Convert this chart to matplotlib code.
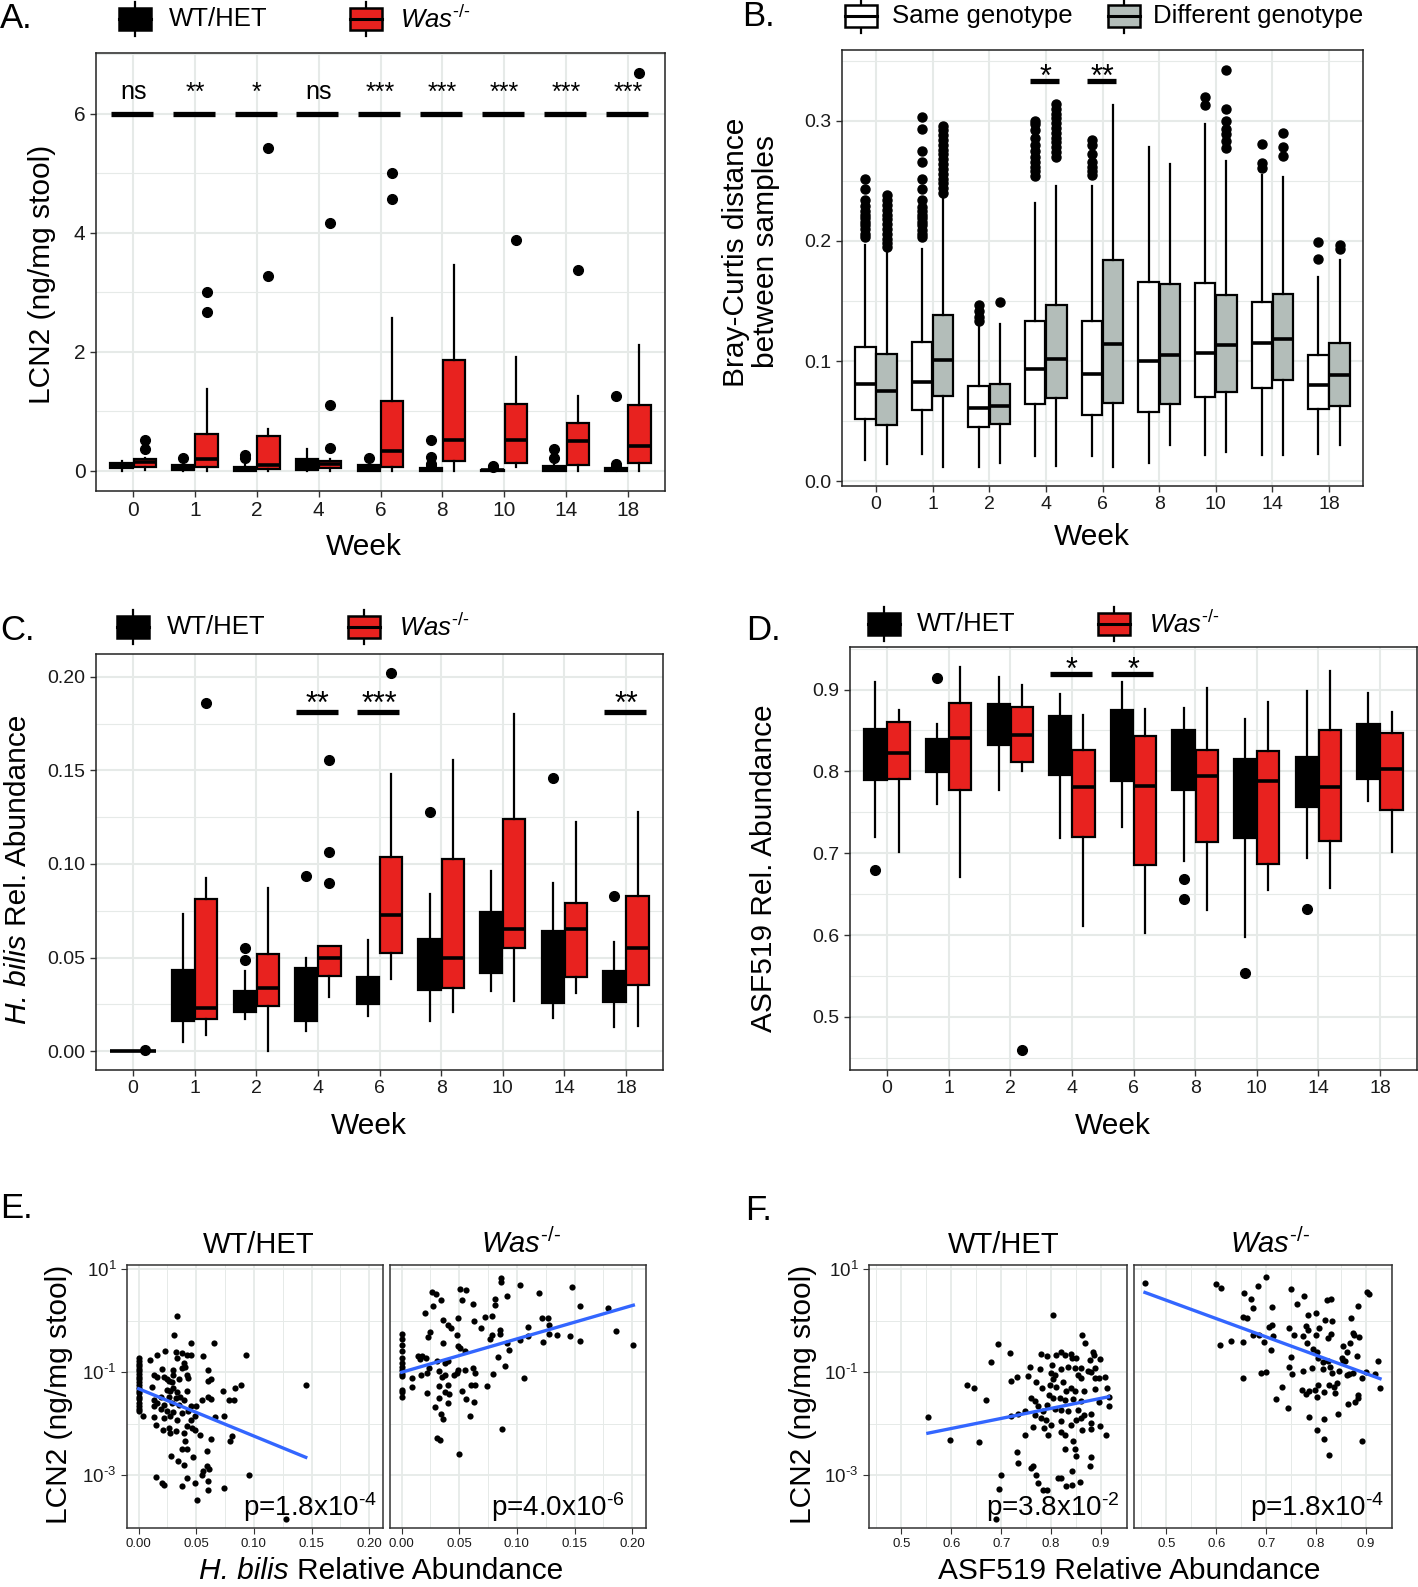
import numpy as np
import matplotlib
matplotlib.use("Agg")
import matplotlib.pyplot as plt
from matplotlib.patches import Rectangle
from matplotlib.ticker import FixedLocator, NullFormatter

plt.rcParams['font.family'] = ['Liberation Sans', 'DejaVu Sans']
plt.rcParams['mathtext.fontset'] = 'custom'
plt.rcParams['mathtext.rm'] = 'Liberation Sans'
plt.rcParams['mathtext.it'] = 'Liberation Sans:italic'

RED = '#e8221f'
GREY = '#b3bdb9'
GRID = '#e6eae8'
BLUE = '#3366ff'
HY = "\u2010"  # short hyphen for superscripts

# ---------------- data ----------------
weeks = ["0", "1", "2", "4", "6", "8", "10", "14", "18"]

# box stats: (whisker low, q1, median, q3, whisker high)
lcn2_wt = [(0.0, 0.04, 0.08, 0.13, 0.17), (0.0, 0.01, 0.04, 0.09, 0.10), (0.0, 0.0, 0.03, 0.07, 0.10),
           (0.0, 0.01, 0.09, 0.19, 0.36), (0.0, 0.0, 0.03, 0.09, 0.10), (0.0, 0.0, 0.01, 0.04, 0.06),
           (0.0, 0.0, 0.005, 0.02, 0.03), (0.0, 0.0, 0.03, 0.08, 0.10), (0.0, 0.0, 0.01, 0.04, 0.05)]
lcn2_wt_out = [[], [0.22], [0.21, 0.27], [], [0.22], [0.09, 0.12, 0.23, 0.52], [0.06, 0.08],
               [0.22, 0.36], [0.08, 0.12, 1.26]]
lcn2_was = [(0.02, 0.06, 0.14, 0.19, 0.22), (0.0, 0.06, 0.19, 0.62, 1.38), (0.0, 0.03, 0.10, 0.59, 0.70),
            (0.0, 0.04, 0.11, 0.16, 0.20), (0.0, 0.07, 0.34, 1.17, 2.57), (0.0, 0.16, 0.52, 1.86, 3.45),
            (0.06, 0.13, 0.51, 1.12, 1.92), (0.0, 0.09, 0.50, 0.81, 1.26), (0.0, 0.13, 0.42, 1.11, 2.12)]
lcn2_was_out = [[0.37, 0.52], [2.66, 3.0], [3.28, 5.43], [0.39, 1.10, 4.16], [4.57, 5.01], [],
                [3.87], [3.37], [6.68]]
lcn2_sig = ["ns", "**", "*", "ns", "***", "***", "***", "***", "***"]

bc_same = [(0.018, 0.052, 0.081, 0.112, 0.197), (0.023, 0.059, 0.083, 0.116, 0.193),
           (0.012, 0.045, 0.061, 0.079, 0.130), (0.021, 0.064, 0.093, 0.133, 0.232),
           (0.021, 0.055, 0.089, 0.133, 0.246), (0.015, 0.058, 0.100, 0.166, 0.278),
           (0.022, 0.070, 0.107, 0.165, 0.297), (0.022, 0.078, 0.115, 0.149, 0.255),
           (0.023, 0.060, 0.080, 0.105, 0.170)]
bc_same_out = [[0.203, 0.206, 0.210, 0.213, 0.216, 0.219, 0.222, 0.225, 0.229, 0.234, 0.243, 0.252],
               [0.203, 0.206, 0.209, 0.213, 0.216, 0.219, 0.222, 0.225, 0.228, 0.234, 0.243, 0.252,
                0.266, 0.275, 0.293, 0.303],
               [0.133, 0.137, 0.142, 0.147],
               [0.254, 0.258, 0.262, 0.266, 0.270, 0.275, 0.280, 0.286, 0.292, 0.297, 0.300],
               [0.255, 0.258, 0.262, 0.266, 0.272, 0.280, 0.284],
               [], [0.313, 0.320], [0.261, 0.265, 0.281], [0.185, 0.199]]
bc_diff = [(0.014, 0.047, 0.075, 0.106, 0.191), (0.012, 0.071, 0.101, 0.138, 0.235),
           (0.015, 0.048, 0.063, 0.081, 0.131), (0.013, 0.069, 0.102, 0.147, 0.246),
           (0.012, 0.065, 0.114, 0.184, 0.313), (0.030, 0.064, 0.105, 0.164, 0.264),
           (0.024, 0.074, 0.113, 0.155, 0.267), (0.022, 0.084, 0.118, 0.156, 0.253),
           (0.030, 0.063, 0.088, 0.115, 0.184)]
bc_diff_out = [[0.195, 0.198, 0.202, 0.206, 0.210, 0.214, 0.218, 0.222, 0.226, 0.230, 0.234, 0.238],
               [0.240, 0.244, 0.248, 0.252, 0.256, 0.260, 0.264, 0.268, 0.272, 0.276, 0.280, 0.284,
                0.288, 0.292, 0.296],
               [0.149],
               [0.270, 0.274, 0.278, 0.282, 0.286, 0.290, 0.294, 0.298, 0.302, 0.306, 0.310, 0.314],
               [], [], [0.277, 0.283, 0.289, 0.293, 0.300, 0.310, 0.342], [0.271, 0.278, 0.290],
               [0.193, 0.197]]
bc_sig_idx = [3, 4]
bc_sig = ["*", "**"]

hb_wt = [(0, 0, 0, 0, 0), (0.0049, 0.0159, 0.030, 0.0435, 0.0734), (0.0174, 0.0211, 0.028, 0.0323, 0.0426),
         (0.0105, 0.0159, 0.030, 0.0444, 0.0497), (0.0189, 0.0254, 0.032, 0.0398, 0.0594),
         (0.0159, 0.0327, 0.045, 0.060, 0.0837), (0.0319, 0.042, 0.060, 0.0743, 0.0962),
         (0.0177, 0.0258, 0.045, 0.064, 0.090), (0.0127, 0.0263, 0.035, 0.043, 0.0584)]
hb_wt_out = [[], [], [0.0487, 0.0553], [0.0934], [], [0.128], [], [0.1457], [0.083]]
hb_was = [(0, 0, 0, 0, 0), (0.0086, 0.017, 0.023, 0.0814, 0.0926), (0.0, 0.0243, 0.0336, 0.0519, 0.087),
          (0.0291, 0.0403, 0.0497, 0.0562, 0.0562), (0.0385, 0.0523, 0.0725, 0.1036, 0.148),
          (0.0207, 0.0336, 0.050, 0.1027, 0.1556), (0.027, 0.0551, 0.065, 0.1238, 0.180),
          (0.0308, 0.0398, 0.065, 0.079, 0.1225), (0.0136, 0.0355, 0.0553, 0.0827, 0.128)]
hb_was_out = [[0.0005], [0.186], [], [0.090, 0.1064, 0.1556], [0.2019], [], [], [], []]
hb_sig_idx = [3, 4, 8]
hb_sig = ["**", "***", "**"]

asf_wt = [(0.720, 0.790, 0.82, 0.852, 0.909), (0.760, 0.799, 0.82, 0.840, 0.858),
          (0.777, 0.832, 0.86, 0.882, 0.915), (0.718, 0.796, 0.84, 0.868, 0.894),
          (0.732, 0.788, 0.84, 0.875, 0.909), (0.691, 0.777, 0.82, 0.850, 0.878),
          (0.598, 0.719, 0.78, 0.815, 0.864), (0.694, 0.756, 0.79, 0.817, 0.898),
          (0.764, 0.791, 0.83, 0.858, 0.896)]
asf_wt_out = [[0.679], [0.914], [], [], [], [0.644, 0.669], [0.553], [0.632], []]
asf_was = [(0.702, 0.791, 0.823, 0.860, 0.875), (0.671, 0.777, 0.841, 0.884, 0.927),
           (0.800, 0.812, 0.844, 0.879, 0.905), (0.611, 0.720, 0.781, 0.826, 0.869),
           (0.603, 0.685, 0.782, 0.843, 0.876), (0.631, 0.714, 0.794, 0.826, 0.902),
           (0.655, 0.687, 0.788, 0.825, 0.885), (0.658, 0.715, 0.781, 0.850, 0.923),
           (0.702, 0.753, 0.803, 0.847, 0.872)]
asf_was_out = [[], [], [0.459], [], [], [], [], [], []]
asf_sig_idx = [3, 4]
asf_sig = ["*", "*"]

# scatter: (relative abundance, log10 LCN2)
sc_hb_wt = [(0.0, -0.73), (0.0, -0.79), (0.0, -0.84), (0.0, -0.88), (0.0, -0.94), (0.0, -0.98), (0.0, -1.03),
            (0.0, -1.09), (0.0, -1.14), (0.0, -1.19), (0.0, -1.25), (0.0, -1.30), (0.0, -1.37), (0.0, -1.41),
            (0.0, -1.47), (0.0, -1.52), (0.0, -1.60), (0.0, -1.66), (0.0, -1.71), (0.0, -1.76),
            (0.033, 0.10), (0.031, -0.28), (0.045, -0.44), (0.065, -0.44), (0.093, -0.66), (0.023, -0.59),
            (0.016, -0.66), (0.032, -0.61), (0.038, -0.62), (0.042, -0.66), (0.045, -0.66), (0.056, -0.69),
            (0.010, -0.77), (0.033, -0.72), (0.039, -0.82), (0.038, -0.92), (0.040, -0.90), (0.020, -0.94),
            (0.030, -0.95), (0.042, -1.05), (0.060, -0.95), (0.013, -1.06), (0.016, -1.09), (0.022, -1.09),
            (0.025, -1.13), (0.026, -1.16), (0.029, -1.19), (0.030, -1.05), (0.035, -1.14), (0.043, -1.11),
            (0.060, -1.16), (0.063, -1.13), (0.089, -1.24), (0.084, -1.30), (0.145, -1.25), (0.012, -1.28),
            (0.025, -1.34), (0.027, -1.37), (0.030, -1.30), (0.033, -1.39), (0.042, -1.37), (0.073, -1.37),
            (0.004, -1.85), (0.019, -1.47), (0.026, -1.47), (0.032, -1.50), (0.036, -1.47), (0.039, -1.53),
            (0.013, -1.53), (0.016, -1.60), (0.022, -1.63), (0.029, -1.60), (0.035, -1.63), (0.045, -1.66),
            (0.055, -1.54), (0.060, -1.48), (0.063, -1.52), (0.078, -1.53), (0.083, -1.54), (0.013, -1.66),
            (0.019, -1.72), (0.025, -1.76), (0.030, -1.78), (0.038, -1.79), (0.043, -1.76), (0.050, -1.65),
            (0.013, -1.87), (0.022, -1.89), (0.027, -1.85), (0.033, -1.92), (0.045, -1.92), (0.049, -1.85),
            (0.066, -1.87), (0.074, -1.84), (0.015, -2.02), (0.021, -2.11), (0.026, -2.08), (0.027, -2.18),
            (0.042, -2.05), (0.046, -2.08), (0.049, -2.11), (0.053, -2.21), (0.032, -2.13), (0.039, -2.18),
            (0.063, -2.29), (0.081, -2.23), (0.079, -2.34), (0.040, -2.34), (0.038, -2.48), (0.042, -2.49),
            (0.059, -2.52), (0.047, -2.64), (0.028, -2.63), (0.034, -2.73), (0.039, -2.79), (0.059, -2.81),
            (0.061, -2.88), (0.055, -2.99), (0.056, -2.92), (0.096, -2.99), (0.015, -3.04), (0.020, -3.14),
            (0.022, -3.19), (0.038, -3.20), (0.042, -3.05), (0.049, -3.15), (0.060, -3.10), (0.060, -3.28),
            (0.074, -3.24), (0.051, -3.47), (0.128, -3.85)]
sc_hb_was = [(0.0, -0.26), (0.0, -0.35), (0.0, -0.48), (0.0, -0.59), (0.0, -0.72), (0.0, -0.83), (0.0, -0.90),
             (0.0, -0.95), (0.0, -1.03), (0.0, -1.08), (0.0, -1.34), (0.0, -1.39), (0.0, -1.47),
             (0.086, 0.83), (0.086, 0.75), (0.103, 0.70), (0.148, 0.66), (0.026, 0.55), (0.030, 0.52),
             (0.051, 0.62), (0.056, 0.59), (0.034, 0.41), (0.052, 0.41), (0.091, 0.48), (0.119, 0.53),
             (0.081, 0.42), (0.062, 0.33), (0.081, 0.31), (0.027, 0.28), (0.155, 0.28), (0.179, 0.24),
             (0.020, 0.14), (0.072, 0.07), (0.078, 0.10), (0.036, 0.02), (0.049, 0.05), (0.063, 0.00),
             (0.122, 0.06), (0.127, 0.05), (0.040, -0.09), (0.043, -0.15), (0.069, -0.14), (0.110, -0.13),
             (0.128, -0.09), (0.186, -0.20), (0.025, -0.22), (0.023, -0.32), (0.048, -0.28), (0.078, -0.28),
             (0.085, -0.18), (0.085, -0.25), (0.077, -0.35), (0.103, -0.38), (0.110, -0.30), (0.128, -0.25),
             (0.135, -0.28), (0.146, -0.29), (0.155, -0.40), (0.201, -0.48), (0.036, -0.43), (0.049, -0.50),
             (0.051, -0.53), (0.055, -0.59), (0.091, -0.44), (0.093, -0.56), (0.123, -0.42), (0.014, -0.69),
             (0.016, -0.74), (0.018, -0.69), (0.021, -0.73), (0.031, -0.79), (0.038, -0.83), (0.040, -0.79),
             (0.084, -0.70), (0.090, -0.88), (0.024, -0.92), (0.032, -0.97), (0.049, -0.96), (0.055, -0.96),
             (0.062, -0.92), (0.064, -1.01), (0.009, -1.12), (0.017, -1.05), (0.022, -1.01), (0.035, -1.10),
             (0.038, -1.06), (0.045, -1.05), (0.048, -1.01), (0.079, -1.03), (0.106, -1.11), (0.009, -1.29),
             (0.032, -1.27), (0.040, -1.24), (0.060, -1.24), (0.064, -1.24), (0.074, -1.27), (0.022, -1.41),
             (0.038, -1.39), (0.041, -1.42), (0.052, -1.37), (0.032, -1.50), (0.040, -1.60), (0.056, -1.52),
             (0.063, -1.58), (0.029, -1.68), (0.034, -1.80), (0.036, -1.90), (0.059, -1.85), (0.087, -2.10),
             (0.031, -2.28), (0.033, -2.32), (0.050, -2.59)]
sc_asf_wt = [(0.803, 0.11), (0.861, -0.28), (0.867, -0.44), (0.693, -0.45), (0.718, -0.63), (0.680, -0.81),
             (0.779, -0.65), (0.791, -0.68), (0.810, -0.66), (0.820, -0.61), (0.827, -0.66), (0.840, -0.65),
             (0.842, -0.73), (0.850, -0.73), (0.883, -0.60), (0.885, -0.66), (0.877, -0.76), (0.898, -0.74),
             (0.801, -0.86), (0.757, -0.89), (0.777, -0.94), (0.819, -0.94), (0.833, -0.89), (0.847, -0.91),
             (0.860, -0.91), (0.873, -0.97), (0.887, -0.91), (0.880, -0.99), (0.732, -1.10), (0.720, -1.16),
             (0.753, -1.07), (0.770, -1.18), (0.800, -1.02), (0.807, -1.05), (0.803, -1.13), (0.823, -1.19),
             (0.853, -1.05), (0.860, -1.12), (0.887, -1.12), (0.895, -1.12), (0.907, -1.10), (0.632, -1.25),
             (0.645, -1.30), (0.669, -1.54), (0.797, -1.25), (0.782, -1.31), (0.810, -1.28), (0.830, -1.37),
             (0.840, -1.31), (0.847, -1.36), (0.865, -1.37), (0.887, -1.32), (0.912, -1.31), (0.760, -1.49),
             (0.767, -1.55), (0.795, -1.45), (0.803, -1.50), (0.817, -1.49), (0.827, -1.54), (0.843, -1.52),
             (0.860, -1.55), (0.895, -1.57), (0.915, -1.47), (0.915, -1.65), (0.553, -1.87), (0.720, -1.84),
             (0.733, -1.81), (0.747, -1.76), (0.773, -1.66), (0.783, -1.76), (0.791, -1.63), (0.807, -1.72),
             (0.819, -1.73), (0.833, -1.76), (0.853, -1.73), (0.865, -1.83), (0.880, -1.81), (0.767, -1.83),
             (0.780, -1.89), (0.790, -1.92), (0.800, -2.03), (0.785, -2.08), (0.819, -1.95), (0.840, -2.02),
             (0.850, -1.92), (0.860, -1.89), (0.879, -1.99), (0.897, -2.05), (0.910, -2.21), (0.597, -2.31),
             (0.655, -2.35), (0.748, -2.21), (0.763, -2.07), (0.793, -2.21), (0.820, -2.15), (0.828, -2.21),
             (0.843, -2.34), (0.861, -2.12), (0.880, -2.10), (0.732, -2.54), (0.733, -2.75), (0.827, -2.48),
             (0.847, -2.49), (0.849, -2.62), (0.880, -2.64), (0.877, -2.81), (0.763, -2.82), (0.760, -2.86),
             (0.770, -3.00), (0.700, -3.00), (0.695, -3.26), (0.773, -3.15), (0.783, -3.28), (0.792, -3.28),
             (0.813, -3.05), (0.820, -3.06), (0.830, -3.21), (0.841, -3.18), (0.857, -3.12), (0.841, -2.91),
             (0.690, -3.85)]
sc_asf_was = [(0.457, 0.74), (0.600, 0.71), (0.610, 0.63), (0.700, 0.84), (0.684, 0.67), (0.656, 0.54),
              (0.669, 0.43), (0.674, 0.24), (0.749, 0.61), (0.776, 0.48), (0.761, 0.32), (0.712, 0.27),
              (0.821, 0.41), (0.829, 0.42), (0.902, 0.55), (0.906, 0.52), (0.884, 0.29), (0.784, 0.11),
              (0.799, 0.14), (0.817, 0.01), (0.832, 0.00), (0.869, 0.05), (0.654, 0.07), (0.662, 0.06),
              (0.706, -0.12), (0.711, -0.08), (0.746, -0.15), (0.779, -0.10), (0.784, -0.18), (0.805, -0.15),
              (0.608, -0.47), (0.629, -0.39), (0.654, -0.42), (0.674, -0.28), (0.686, -0.28), (0.695, -0.41),
              (0.714, -0.29), (0.755, -0.28), (0.773, -0.30), (0.799, -0.28), (0.829, -0.26), (0.824, -0.34),
              (0.874, -0.23), (0.876, -0.28), (0.886, -0.32), (0.867, -0.43), (0.781, -0.44), (0.794, -0.54),
              (0.802, -0.60), (0.710, -0.57), (0.853, -0.50), (0.862, -0.60), (0.881, -0.68), (0.749, -0.70),
              (0.804, -0.73), (0.814, -0.81), (0.823, -0.79), (0.851, -0.73), (0.853, -0.79), (0.857, -0.78),
              (0.924, -0.78), (0.654, -1.12), (0.690, -1.02), (0.700, -0.99), (0.745, -0.90), (0.752, -1.03),
              (0.773, -0.97), (0.792, -0.91), (0.813, -0.94), (0.827, -0.89), (0.831, -1.02), (0.846, -0.97),
              (0.861, -1.05), (0.866, -1.04), (0.874, -1.02), (0.899, -0.99), (0.918, -1.04), (0.891, -1.12),
              (0.928, -1.30), (0.732, -1.29), (0.719, -1.52), (0.744, -1.70), (0.771, -1.34), (0.779, -1.43),
              (0.786, -1.37), (0.797, -1.34), (0.801, -1.48), (0.804, -1.25), (0.815, -1.39), (0.825, -1.25),
              (0.835, -1.28), (0.837, -1.41), (0.842, -1.21), (0.864, -1.61), (0.877, -1.58), (0.883, -1.44),
              (0.884, -1.50), (0.786, -1.86), (0.815, -1.91), (0.844, -1.81), (0.801, -2.11), (0.816, -2.29),
              (0.825, -2.61), (0.891, -2.34)]

# linear fits on log10 scale: (slope, intercept)
fit_hb_wt = (-9.17, -1.32)
fit_hb_was = (6.47, -1.00)
fit_asf_wt = (1.95, -3.26)
fit_asf_was = (-3.55, 2.17)
p_hb = ["p=1.8x10$^{" + HY + "4}$", "p=4.0x10$^{" + HY + "6}$"]
p_asf = ["p=3.8x10$^{" + HY + "2}$", "p=1.8x10$^{" + HY + "4}$"]

# ---------------- figure ----------------
W, H = 1418, 1587
fig = plt.figure(figsize=(W / 100, H / 100), dpi=100)


def px_axes(l, t, r, b):
    return fig.add_axes([l / W, 1 - b / H, (r - l) / W, (b - t) / H])


def stats(rows, outs):
    return [dict(whislo=r[0], q1=r[1], med=r[2], q3=r[3], whishi=r[4], fliers=o)
            for r, o in zip(rows, outs)]


def draw_boxes(ax, rows, outs, offset, face, ms=7):
    ax.bxp(stats(rows, outs), positions=np.arange(len(rows)) + offset, widths=0.36,
           patch_artist=True, showcaps=False, manage_ticks=False,
           boxprops=dict(facecolor=face, edgecolor='black', linewidth=1.6),
           medianprops=dict(color='black', linewidth=2.6, solid_capstyle='butt'),
           whiskerprops=dict(color='black', linewidth=1.6),
           flierprops=dict(marker='o', markerfacecolor='black', markeredgecolor='black',
                           markersize=ms, linestyle='none'))


def style_box(ax, ylim, yticks, ylabels, yminor, tsize=14):
    ax.set_xlim(-0.6, 8.6)
    ax.set_ylim(*ylim)
    ax.set_xticks(range(len(weeks)))
    ax.set_xticklabels(weeks)
    ax.set_yticks(yticks)
    ax.set_yticklabels(ylabels)
    ax.set_yticks(yminor, minor=True)
    ax.grid(True, which='major', color=GRID, lw=1.5)
    ax.grid(True, which='minor', axis='y', color=GRID, lw=0.8)
    ax.tick_params(which='minor', length=0)
    ax.tick_params(which='major', length=4, width=1, color='#333333', labelsize=tsize,
                   labelcolor='#1a1a1a')
    ax.set_axisbelow(True)
    for s in ax.spines.values():
        s.set_color('#222222')
        s.set_linewidth(1.1)


def draw_sig(ax, idx, labels, ybar, ytext, half=(0.36, 0.32), fs=22):
    for i, lab in zip(idx, labels):
        ax.plot([i - half[0], i + half[1]], [ybar, ybar], color='black', lw=3.8,
                solid_capstyle='butt', zorder=4)
        ax.text(i, ytext, lab, ha='center', va='baseline', fontsize=fs, zorder=4)


# A
axA = px_axes(96, 53, 665, 491)
style_box(axA, (-0.34, 7.02), [0, 2, 4, 6], ["0", "2", "4", "6"], [1, 3, 5, 7], tsize=15)
draw_boxes(axA, lcn2_wt, lcn2_wt_out, -0.1875, 'black')
draw_boxes(axA, lcn2_was, lcn2_was_out, 0.1875, RED)
draw_sig(axA, range(len(weeks)), lcn2_sig, 6.0, 6.24, fs=18)

# B
axB = px_axes(842, 50, 1363, 486)
style_box(axB, (-0.004, 0.359), [0, 0.1, 0.2, 0.3], ["0.0", "0.1", "0.2", "0.3"],
          [0.05, 0.15, 0.25, 0.35])
draw_boxes(axB, bc_same, bc_same_out, -0.1875, 'white', ms=6.5)
draw_boxes(axB, bc_diff, bc_diff_out, 0.1875, GREY, ms=6.5)
draw_sig(axB, bc_sig_idx, bc_sig, 0.333, 0.329, half=(0.28, 0.24))

# C
axC = px_axes(96, 654, 663, 1070)
style_box(axC, (-0.0101, 0.2122), [0, 0.05, 0.10, 0.15, 0.20], ["0.00", "0.05", "0.10", "0.15", "0.20"],
          [0.025, 0.075, 0.125, 0.175])
draw_boxes(axC, hb_wt, hb_wt_out, -0.1875, 'black')
draw_boxes(axC, hb_was, hb_was_out, 0.1875, RED)
draw_sig(axC, hb_sig_idx, hb_sig, 0.1813, 0.1805)

# D
axD = px_axes(850, 647, 1417, 1070)
style_box(axD, (0.435, 0.952), [0.5, 0.6, 0.7, 0.8, 0.9], ["0.5", "0.6", "0.7", "0.8", "0.9"],
          [0.45, 0.55, 0.65, 0.75, 0.85, 0.95])
draw_boxes(axD, asf_wt, asf_wt_out, -0.1875, 'black')
draw_boxes(axD, asf_was, asf_was_out, 0.1875, RED)
draw_sig(axD, asf_sig_idx, asf_sig, 0.919, 0.913)


def style_scatter(ax, xlim, xt, xtl, xminor, left):
    ax.set_yscale('log')
    ax.set_ylim(10 ** -4.02, 10 ** 1.08)
    ax.set_xlim(*xlim)
    ax.set_xticks(xt)
    ax.set_xticklabels(xtl)
    ax.set_xticks(xminor, minor=True)
    ax.yaxis.set_major_locator(FixedLocator([10, 0.1, 0.001]))
    ax.yaxis.set_minor_locator(FixedLocator([1, 0.01]))
    ax.yaxis.set_minor_formatter(NullFormatter())
    if left:
        ax.set_yticklabels(["10$^{1}$", "10$^{" + HY + "1}$", "10$^{" + HY + "3}$"])
    else:
        ax.tick_params(axis='y', which='both', left=False, labelleft=False)
    ax.grid(True, which='major', color=GRID, lw=1.3)
    ax.grid(True, which='minor', color=GRID, lw=0.7)
    ax.tick_params(which='minor', length=0)
    ax.tick_params(axis='x', which='major', length=4, color='#333333', labelsize=9.5, labelcolor='#1a1a1a')
    ax.tick_params(axis='y', which='major', length=4, color='#333333', labelsize=13.5, labelcolor='#1a1a1a')
    ax.set_axisbelow(True)
    for s in ax.spines.values():
        s.set_color('#333333')
        s.set_linewidth(1.1)


def draw_scatter(ax, pts, fit, ptxt, px):
    x, ly = np.array(pts).T
    ax.scatter(x, 10 ** ly, s=20, color='black', linewidths=0, zorder=3)
    xs = np.array([x.min(), x.max()])
    ax.plot(xs, 10 ** (fit[1] + fit[0] * xs), color=BLUE, lw=2.4, zorder=4)
    ax.text(px, 0.045, ptxt, transform=ax.transAxes, ha='right', va='baseline', fontsize=20)


hb_xt = [0, 0.05, 0.10, 0.15, 0.20]
hb_xtl = ["0.00", "0.05", "0.10", "0.15", "0.20"]
hb_minor = [0.025, 0.075, 0.125, 0.175]
axE1 = px_axes(127, 1265, 383, 1528)
style_scatter(axE1, (-0.0101, 0.212), hb_xt, hb_xtl, hb_minor, True)
draw_scatter(axE1, sc_hb_wt, fit_hb_wt, p_hb[0], 0.975)
axE2 = px_axes(390, 1265, 646, 1528)
style_scatter(axE2, (-0.0101, 0.212), hb_xt, hb_xtl, hb_minor, False)
draw_scatter(axE2, sc_hb_was, fit_hb_was, p_hb[1], 0.915)

asf_xt = [0.5, 0.6, 0.7, 0.8, 0.9]
asf_xtl = ["0.5", "0.6", "0.7", "0.8", "0.9"]
asf_minor = [0.45, 0.55, 0.65, 0.75, 0.85, 0.95]
axF1 = px_axes(869, 1265, 1127, 1528)
style_scatter(axF1, (0.435, 0.952), asf_xt, asf_xtl, asf_minor, True)
draw_scatter(axF1, sc_asf_wt, fit_asf_wt, p_asf[0], 0.972)
axF2 = px_axes(1134, 1265, 1392, 1528)
style_scatter(axF2, (0.435, 0.952), asf_xt, asf_xtl, asf_minor, False)
draw_scatter(axF2, sc_asf_was, fit_asf_was, p_asf[1], 0.97)

# ---------------- overlay: letters, legends, titles ----------------
ov = fig.add_axes([0, 0, 1, 1])
ov.set_xlim(0, W)
ov.set_ylim(H, 0)
ov.axis('off')
ov.patch.set_alpha(0)


def key(cx, cy, face):
    ov.plot([cx, cx], [cy - 17, cy + 17], color='black', lw=1.6, zorder=1)
    ov.add_patch(Rectangle((cx - 16, cy - 11), 32, 22, facecolor=face, edgecolor='black', lw=1.8,
                           zorder=2))
    ov.plot([cx - 16, cx + 16], [cy, cy], color='black', lw=2.2, zorder=3)


WAS = "$\\mathit{Was}^{" + HY + "/" + HY + "}$"
for (kx, ky, tx), face, lab in [((135, 19, 169), 'black', "WT/HET"), ((366, 19, 400), RED, WAS),
                                ((861, 16, 892), 'white', "Same genotype"),
                                ((1124, 16, 1153), GREY, "Different genotype"),
                                ((133, 627, 167), 'black', "WT/HET"), ((364, 627, 399), RED, WAS),
                                ((884, 624, 917), 'black', "WT/HET"), ((1114, 624, 1149), RED, WAS)]:
    key(kx, ky, face)
    ov.text(tx, ky, lab, ha='left', va='center', fontsize=18.5)

for x, y, s in [(0, 19, "A."), (742, 16, "B."), (0, 631, "C."), (746, 631, "D."),
                (0, 1209, "E."), (745, 1210, "F.")]:
    ov.text(x, y, s, ha='left', va='center', fontsize=25)

for x, y in [(364, 555), (1092, 545), (369, 1134), (1113, 1134)]:
    ov.text(x, y, "Week", ha='center', va='baseline', fontsize=21.5)

ov.text(42, 274, "LCN2 (ng/mg stool)", rotation=90, ha='center', va='center', fontsize=21.5)
ov.text(751, 252, "Bray-Curtis distance\nbetween samples", rotation=90, ha='center', va='center',
        fontsize=21.5, linespacing=1.1, multialignment='center')
# italic species name + plain remainder, joined end to end
ov.text(18, 934, "H. bilis", rotation=90, ha='center', va='top', fontsize=21.5, style='italic')
ov.text(18, 926, "Rel. Abundance", rotation=90, ha='center', va='bottom', fontsize=21.5)
ov.text(764, 868, "ASF519 Rel. Abundance", rotation=90, ha='center', va='center', fontsize=21.5)

ov.text(59, 1394, "LCN2 (ng/mg stool)", rotation=90, ha='center', va='center', fontsize=21.5)
ov.text(803, 1394, "LCN2 (ng/mg stool)", rotation=90, ha='center', va='center', fontsize=21.5)
ov.text(289, 1579, "H. bilis", ha='right', va='baseline', fontsize=21.5, style='italic')
ov.text(297, 1579, "Relative Abundance", ha='left', va='baseline', fontsize=21.5)
ov.text(1129, 1579, "ASF519 Relative Abundance", ha='center', va='baseline', fontsize=21.5)

for x, s in [(259, "WT/HET"), (521, WAS), (1004, "WT/HET"), (1270, WAS)]:
    ov.text(x, 1253, s, ha='center', va='baseline', fontsize=21)

fig.savefig("out.png", dpi=100, facecolor='white')
